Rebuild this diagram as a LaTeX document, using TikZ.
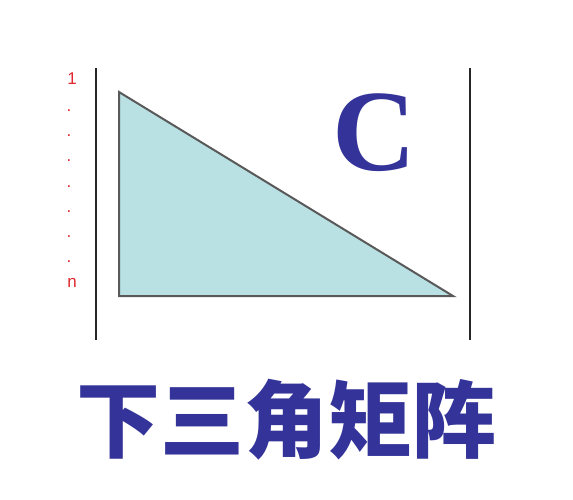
\documentclass[tikz,border=0pt]{standalone}
\usepackage{xcolor}
\usepackage{fontspec}
\setsansfont{Liberation Sans}
\newfontfamily\titlecjk{Noto Sans CJK SC}
\newfontfamily\serifbold{Liberation Serif}
\usepackage{tikz}
\usetikzlibrary{positioning}
\definecolor{matblue}{HTML}{333399}
\definecolor{matfill}{HTML}{B9E0E3}
\definecolor{rowred}{HTML}{E0282E}
\tikzset{
bar/.style={
line width=2.4pt,
black!85
},
lowertri/.style={
draw=black!65,
line width=2pt,
fill=matfill,
line join=miter
},
rowlabel/.style={
font=\sffamily\fontsize{17}{17}\selectfont,
text=rowred,
inner sep=0pt
}
}

\begin{document}
\begin{tikzpicture}[x=1pt,y=-1pt]
\useasboundingbox (0,0) rectangle (573,500);

% bars of the matrix
\coordinate (lt) at (96,68);
\coordinate (lb) at (96,340);
\coordinate (rt) at (470,68);
\coordinate (rb) at (470,340);
\draw[bar](lt)--(lb);
\draw[bar](rt)--(rb);

% the triangle
\coordinate (top) at (119,92);
\coordinate (corner) at (119,296);
\coordinate (tip) at (453,296);
\draw[lowertri](top)--(corner)--(tip)--cycle;

\node[text=matblue,inner sep=0pt,font=\serifbold\bfseries\fontsize{116}{116}\selectfont](cname) at (374,133){C};

% row numbers
\node[rowlabel](first) at (72,79){1};
\foreach \y in {110,135,160,186,211,236,261}
\node[rowlabel,anchor=base](dot\y) at (69,\y+1.5){.};
\node[rowlabel](last) at (72,283){n};

\node[text=matblue,inner sep=0pt,font=\titlecjk\bfseries\fontsize{84}{84}\selectfont](title) at (286.5,420){下三角矩阵};

\end{tikzpicture}
\end{document}
